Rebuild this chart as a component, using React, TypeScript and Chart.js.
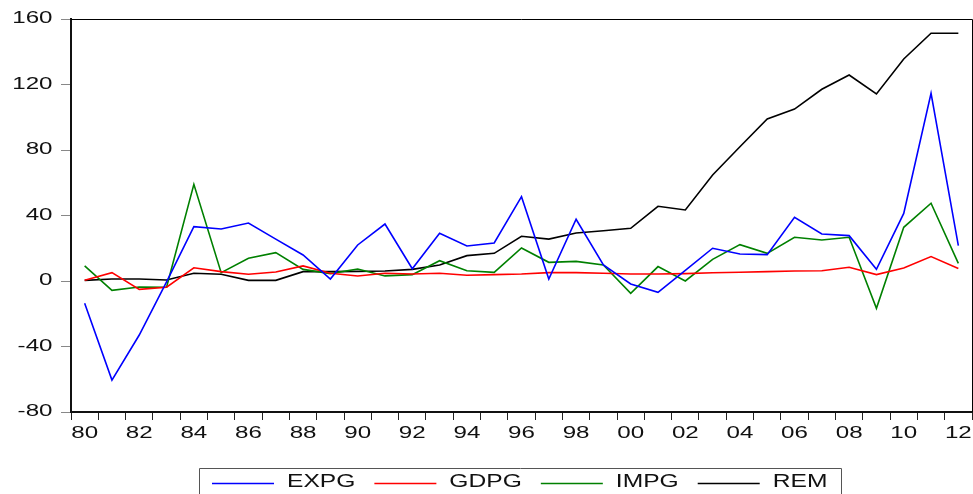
import React, { useEffect, useRef } from 'react';
import { Chart, registerables } from 'chart.js';

Chart.register(...registerables);

const years = [
  1980, 1981, 1982, 1983, 1984, 1985, 1986, 1987, 1988, 1989,
  1990, 1991, 1992, 1993, 1994, 1995, 1996, 1997, 1998, 1999,
  2000, 2001, 2002, 2003, 2004, 2005, 2006, 2007, 2008, 2009,
  2010, 2011, 2012,
];

const expg = [
  -13.6, -60.5, -33.0, -0.5, 33.2, 31.8, 35.4, 25.6, 15.9, 1.2,
  22.0, 34.8, 7.5, 29.1, 21.4, 23.2, 51.5, 1.2, 37.7, 9.8,
  -1.8, -6.9, 6.5, 20.0, 16.5, 16.1, 38.9, 28.7, 27.7, 7.1,
  41.3, 114.6, 21.6,
];

const gdpg = [
  0.4, 5.1, -5.1, -3.8, 8.1, 5.7, 4.1, 5.5, 9.2, 4.7,
  3.1, 4.7, 4.3, 4.7, 3.5, 3.9, 4.3, 5.1, 5.1, 4.7,
  4.3, 4.3, 4.5, 5.0, 5.3, 5.7, 6.1, 6.3, 8.4, 3.9,
  7.9, 14.9, 7.7,
];

const impg = [
  9.2, -5.7, -3.7, -3.8, 59.0, 5.1, 13.9, 17.3, 7.1, 4.5,
  7.3, 3.1, 3.9, 12.4, 6.3, 5.3, 20.2, 11.4, 12.0, 9.8,
  -7.5, 8.8, 0.0, 13.2, 22.2, 16.9, 26.7, 25.0, 26.7, -16.7,
  32.8, 47.5, 10.8,
];

const rem = [
  0.4, 1.2, 1.2, 0.6, 4.7, 4.1, 0.4, 0.4, 5.7, 5.7,
  5.9, 6.1, 7.1, 9.8, 15.5, 16.9, 27.3, 25.6, 29.3, 30.7,
  32.2, 45.6, 43.4, 64.7, 82.0, 98.9, 105.0, 117.1, 125.8, 114.2,
  135.6, 151.3, 151.3,
];

const seriesNames = ['EXPG', 'GDPG', 'IMPG', 'REM'];
const seriesColors = ['#0000ff', '#ff0000', '#008000', '#000000'];

const Y_MIN = -80;
const Y_MAX = 160;
const Y_STEP = 40;

const TICK_FONT = '17px "Liberation Sans", Arial, sans-serif';
const TICK_STRETCH = 1.42;
const LEGEND_FONT = '18.5px "Liberation Sans", Arial, sans-serif';
const LEGEND_STRETCH = 1.33;

const customDraw = {
  id: 'customDraw',
  afterDraw(chart: any) {
    const ctx = chart.ctx as CanvasRenderingContext2D;
    const { left, top, right, bottom } = chart.chartArea;
    ctx.save();

    // frame top + right
    ctx.strokeStyle = '#000';
    ctx.lineWidth = 1;
    ctx.beginPath();
    ctx.moveTo(left, top + 0.5);
    ctx.lineTo(right + 0.5, top + 0.5);
    ctx.lineTo(right + 0.5, bottom);
    ctx.stroke();

    // y tick labels (stretched)
    ctx.font = TICK_FONT;
    ctx.fillStyle = '#111';
    const ys = chart.scales.y;
    ys.ticks.forEach((t: any, i: number) => {
      const py = ys.getPixelForTick(i);
      ctx.save();
      ctx.translate(left - 18.5, py - 0.5);
      ctx.scale(TICK_STRETCH, 1);
      ctx.textAlign = 'right';
      ctx.textBaseline = 'middle';
      ctx.fillText(String(t.label), 0, 0);
      ctx.restore();
    });

    // x tick labels (stretched)
    const xs = chart.scales.x;
    xs.ticks.forEach((t: any, i: number) => {
      if (!t.label) return;
      const px = xs.getPixelForValue(i);
      ctx.save();
      ctx.translate(px, bottom + 21);
      ctx.scale(TICK_STRETCH, 1);
      ctx.textAlign = 'center';
      ctx.textBaseline = 'middle';
      ctx.fillText(String(t.label), 0, 0);
      ctx.restore();
    });

    // legend
    ctx.font = LEGEND_FONT;
    const boxLeft = 199;
    const boxTop = 468;
    let x = 212;
    const lineY = 483.5;
    const datasets = chart.data.datasets;
    datasets.forEach((ds: any, i: number) => {
      ctx.strokeStyle = ds.borderColor;
      ctx.lineWidth = 1.5;
      ctx.beginPath();
      ctx.moveTo(x, lineY);
      ctx.lineTo(x + 62, lineY);
      ctx.stroke();
      x += 75;
      ctx.save();
      ctx.translate(x, 482);
      ctx.scale(LEGEND_STRETCH, 1);
      ctx.fillStyle = '#111';
      ctx.textAlign = 'left';
      ctx.textBaseline = 'middle';
      ctx.fillText(ds.label, 0, 0);
      ctx.restore();
      x += ctx.measureText(ds.label).width * LEGEND_STRETCH;
      if (i < datasets.length - 1) x += 19;
    });
    const boxRight = Math.round(x + 14);
    ctx.strokeStyle = '#555';
    ctx.lineWidth = 1;
    ctx.beginPath();
    ctx.moveTo(boxLeft + 0.5, 494);
    ctx.lineTo(boxLeft + 0.5, boxTop + 0.5);
    ctx.lineTo(boxRight + 0.5, boxTop + 0.5);
    ctx.lineTo(boxRight + 0.5, 494);
    ctx.stroke();

    ctx.restore();
  },
};

export default function App() {
  const ref = useRef<HTMLCanvasElement | null>(null);

  useEffect(() => {
    document.body.style.margin = '0';
    const canvas = ref.current;
    if (!canvas) return;
    const allSeries = [expg, gdpg, impg, rem];
    const chart = new Chart(canvas, {
      type: 'line',
      data: {
        labels: years.map(String),
        datasets: allSeries.map((d, i) => ({
          label: seriesNames[i],
          data: d,
          borderColor: seriesColors[i],
          backgroundColor: seriesColors[i],
          borderWidth: 1.6,
          pointRadius: 0,
          tension: 0,
          fill: false,
        })),
      },
      options: {
        responsive: false,
        devicePixelRatio: 1,
        animation: false,
        layout: { padding: { left: 0, top: 19, right: 1, bottom: 0 } },
        plugins: {
          legend: { display: false },
          tooltip: { enabled: false },
        },
        scales: {
          x: {
            type: 'category',
            offset: true,
            grid: {
              offset: true,
              drawOnChartArea: false,
              drawTicks: true,
              tickLength: 8,
              color: '#222',
              lineWidth: 1,
            },
            border: { display: true, width: 2, color: '#111' },
            ticks: {
              autoSkip: false,
              maxRotation: 0,
              minRotation: 0,
              color: 'rgba(0,0,0,0)',
              font: { size: 10 },
              callback: (_v: any, i: number) => {
                const y = years[i];
                return y % 2 === 0 ? String(y).slice(2) : '';
              },
            },
            afterFit: (s: any) => {
              s.height = 82;
            },
          },
          y: {
            min: Y_MIN,
            max: Y_MAX,
            ticks: {
              stepSize: Y_STEP,
              color: 'rgba(0,0,0,0)',
              font: { size: 10 },
            },
            grid: {
              drawOnChartArea: false,
              drawTicks: true,
              tickLength: 10,
              color: '#888',
              lineWidth: 1,
            },
            border: { display: true, width: 2, color: '#111' },
            afterFit: (s: any) => {
              s.width = 71;
            },
          },
        },
      },
      plugins: [customDraw],
    });
    return () => chart.destroy();
  }, []);

  return (
    <div style={{ width: 973, height: 494 }}>
      <canvas ref={ref} width={973} height={494} style={{ display: 'block' }} />
    </div>
  );
}
